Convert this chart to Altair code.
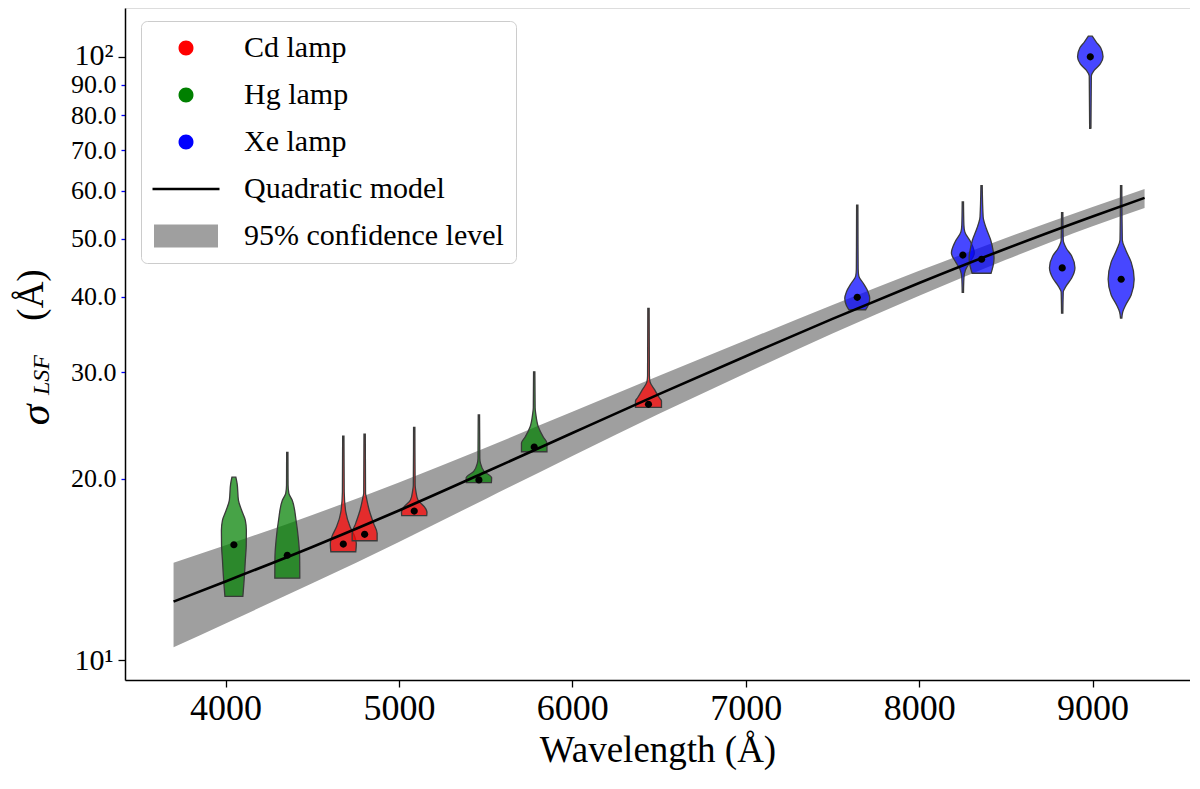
import altair as alt
import pandas as pd

# ---------------- data ----------------
lamps = ["Hg lamp", "Hg lamp", "Cd lamp", "Cd lamp", "Cd lamp", "Hg lamp", "Hg lamp",
         "Cd lamp", "Xe lamp", "Xe lamp", "Xe lamp", "Xe lamp", "Xe lamp", "Xe lamp"]
centers = [4048, 4356, 4679, 4802, 5088, 5461, 5780, 6439, 7643, 8252, 8360, 8825, 8987, 9165]
medians = [15.53, 14.92, 15.57, 16.16, 17.66, 19.89, 22.55, 26.55, 39.95, 46.95, 46.2, 44.7, 100.1, 42.8]

# violin profiles: sigma values (top to bottom) and relative density (0..1)
profile_sigma = [
    [20.1, 19.6, 18.4, 17.7, 17.05, 16.4, 15.5, 14.65, 13.8, 12.75],
    [22.1, 19.5, 18.9, 18.4, 17.07, 15.81, 14.8, 13.67],
    [23.5, 19.0, 17.6, 16.63, 16.03, 15.6, 15.12],
    [23.7, 18.9, 18.66, 17.7, 16.85, 16.22, 15.77],
    [24.3, 19.5, 19.1, 18.42, 17.96, 17.6, 17.35],
    [25.5, 21.6, 21.2, 20.55, 20.05, 19.68],
    [30.06, 26.2, 25.6, 24.35, 23.45, 22.9, 22.15],
    [38.3, 29.6, 28.93, 28.05, 27.2, 26.9, 26.24],
    [56.8, 44.5, 43.3, 42.2, 40.8, 39.8, 38.8, 38.1],
    [57.5, 52.64, 51.28, 49.35, 47.3, 45.7, 44.35, 43.0, 40.7],
    [61.2, 54.35, 52.05, 49.72, 47.86, 46.42, 45.0, 43.8],
    [55.2, 49.72, 48.24, 46.77, 44.73, 43.0, 41.7, 40.75, 37.6],
    [108.3, 105.9, 103.5, 100.1, 97.4, 95.1, 93.0, 76.2],
    [61.2, 49.72, 47.86, 45.7, 42.79, 40.3, 38.8, 37.77, 36.9],
]
profile_density = [
    [0.15, 0.25, 0.35, 0.6, 0.88, 0.96, 0.95, 0.88, 0.81, 0.69],
    [0.05, 0.06, 0.12, 0.38, 0.67, 0.86, 0.95, 0.96],
    [0.05, 0.07, 0.19, 0.52, 0.87, 1.0, 0.96],
    [0.05, 0.07, 0.12, 0.36, 0.69, 0.96, 0.96],
    [0.05, 0.07, 0.12, 0.29, 0.77, 0.98, 0.96],
    [0.05, 0.07, 0.12, 0.4, 0.98, 0.96],
    [0.05, 0.07, 0.12, 0.32, 0.69, 0.98, 0.98],
    [0.05, 0.07, 0.12, 0.48, 0.85, 1.0, 1.0],
    [0.05, 0.07, 0.12, 0.45, 0.83, 0.96, 0.85, 0.65],
    [0.05, 0.08, 0.15, 0.6, 0.88, 0.55, 0.2, 0.08, 0.05],
    [0.05, 0.12, 0.35, 0.7, 0.88, 0.96, 0.88, 0.73],
    [0.05, 0.08, 0.3, 0.73, 0.98, 0.73, 0.3, 0.08, 0.05],
    [0.15, 0.46, 0.81, 0.98, 0.77, 0.31, 0.08, 0.05],
    [0.05, 0.09, 0.35, 0.77, 1.0, 0.77, 0.35, 0.12, 0.05],
]

model_wave = [3700, 4000, 4500, 5000, 5500, 6000, 6500, 7000, 7500, 8000, 8500, 9000, 9300]
model_mid = [12.5, 13.5, 15.4, 17.7, 20.5, 23.8, 27.6, 31.9, 36.8, 42.2, 48.1, 54.4, 58.4]
model_lo = [10.5, 11.5, 13.4, 15.7, 18.5, 21.8, 25.6, 29.9, 34.8, 40.2, 46.1, 52.4, 56.2]
model_hi = [14.5, 15.5, 17.4, 19.7, 22.5, 25.8, 29.6, 33.9, 38.8, 44.2, 50.1, 56.4, 60.4]

legend_order = ["Cd lamp", "Hg lamp", "Xe lamp", "Quadratic model", "95% confidence level"]
legend_colors = ["red", "green", "blue", "black", "#9f9f9f"]

x_ticks = [4000, 5000, 6000, 7000, 8000, 9000]
y_ticks = [10, 20, 30, 40, 50, 60, 70, 80, 90, 100]

# ---------------- tables ----------------
rows = []
for i, (lamp, c, sig, den) in enumerate(zip(lamps, centers, profile_sigma, profile_density)):
    for s, d in zip(sig, den):
        rows.append({"violin": i, "lamp": lamp, "center": c, "sigma": s, "dens": d})
viol = pd.DataFrame(rows).sort_values(["violin", "sigma"])
med = pd.DataFrame({"center": centers, "median": medians, "lamp": lamps})
model = pd.DataFrame({"wave": model_wave, "mid": model_mid, "lo": model_lo, "hi": model_hi})

FONT = "Liberation Serif"
HALF = 75  # half-width (Å) of a violin at density 1

# legend / marker symbol paths (unit = sqrt(size)/2 px)
CIRCLE = "M0.5,0A0.5,0.5,0,1,1,-0.5,0A0.5,0.5,0,1,1,0.5,0Z"
LINE = "M-2.233,-0.09H2.233V0.09H-2.233Z"
RECT = "M-2.133,-0.767H2.133V0.767H-2.133Z"
shape_range = [CIRCLE, CIRCLE, CIRCLE, LINE, RECT]

x_scale = alt.Scale(domain=[3420, 9562], nice=False, zero=False)
y_scale = alt.Scale(type="log", domain=[9.265, 120.6], nice=False)

major = "datum.value == 10 || datum.value == 100"
x_axis = alt.Axis(values=x_ticks, format="d", title="Wavelength (Å)", titleFontSize=37,
                  titleFontWeight="normal", titleFont=FONT, labelFont=FONT, labelFontSize=36,
                  tickSize=7, tickWidth=1.3, tickColor="black", domainColor="black",
                  domainWidth=1.5, labelColor="black", titleColor="black", grid=False,
                  labelPadding=4, titlePadding=6, labelFlush=False)
y_axis = alt.Axis(values=y_ticks, title=None, grid=False,
                  labelExpr="datum.value == 10 ? '10¹' : datum.value == 100 ? '10²' : format(datum.value, '.1f')",
                  labelFont=FONT,
                  labelFontSize={"condition": {"test": major, "value": 30}, "value": 26},
                  labelOffset={"condition": {"test": "datum.value == 100", "value": -2}, "value": 0},
                  tickColor={"condition": {"test": major, "value": "black"}, "value": "blue"},
                  tickSize={"condition": {"test": major, "value": 7}, "value": 4},
                  tickWidth=1.3, domainColor="black", domainWidth=1.5, labelColor="black",
                  labelPadding=5, labelFlush=False, labelOverlap=False)


def make_legend():
    return alt.Legend(
        title=None, orient="none", legendX=16, legendY=13, symbolSize=900,
        labelFont=FONT, labelFontSize=30, labelLimit=600, labelOffset=43, labelColor="black",
        symbolOffset=18, padding=12, rowPadding=17,
        fillColor="rgba(255,255,255,0.8)", strokeColor="#cccccc", cornerRadius=6,
        symbolOpacity=1, symbolStrokeWidth=0,
    )


band = alt.Chart(model).mark_area(color="#9f9f9f", interpolate="monotone").encode(
    x=alt.X("wave:Q", scale=x_scale, axis=x_axis),
    y=alt.Y("lo:Q", scale=y_scale, axis=y_axis),
    y2="hi:Q",
)

violins = alt.Chart(viol).transform_calculate(
    xlo=f"datum.center - datum.dens * {HALF}",
    xhi=f"datum.center + datum.dens * {HALF}",
).mark_area(orient="horizontal", interpolate="monotone", fillOpacity=0.72,
            stroke="#3a3a3a", strokeWidth=1.3).encode(
    y=alt.Y("sigma:Q", scale=y_scale),
    x=alt.X("xlo:Q", scale=x_scale),
    x2="xhi:Q",
    color=alt.Color("lamp:N", scale=alt.Scale(domain=legend_order, range=legend_colors),
                    legend=make_legend()),
    detail="violin:N",
)

dots = alt.Chart(med).mark_point(color="black", filled=True, size=207, opacity=1).encode(
    x=alt.X("center:Q", scale=x_scale),
    y=alt.Y("median:Q", scale=y_scale),
    shape=alt.Shape("lamp:N", scale=alt.Scale(domain=legend_order, range=shape_range),
                    legend=make_legend()),
)

line = alt.Chart(model).mark_line(color="black", strokeWidth=2.6, interpolate="monotone").encode(
    x=alt.X("wave:Q", scale=x_scale),
    y=alt.Y("mid:Q", scale=y_scale),
)


def title_part(txt, xpos, ypos, size, italic):
    return alt.Chart(pd.DataFrame({"t": [txt]})).mark_text(
        angle=270, align="center", baseline="middle", font=FONT, fontSize=size,
        fontStyle="italic" if italic else "normal", color="black",
    ).encode(text="t:N", x=alt.value(xpos), y=alt.value(ypos))


t_sigma = title_part("σ", -89, 407, 42, True)
t_lsf = title_part("LSF", -83, 367, 24, True)
t_ang = title_part("(Å)", -93, 287, 37, False)

chart = alt.layer(band, violins, dots, line, t_sigma, t_lsf, t_ang).properties(
    width=1065, height=672,
    padding={"left": 117, "top": 0, "right": 0, "bottom": 100},
    autosize=alt.AutoSizeParams(type="none"),
).configure_view(stroke=None).configure(font=FONT)

chart.save("out.html", embed_options={"renderer": "svg", "actions": False})
